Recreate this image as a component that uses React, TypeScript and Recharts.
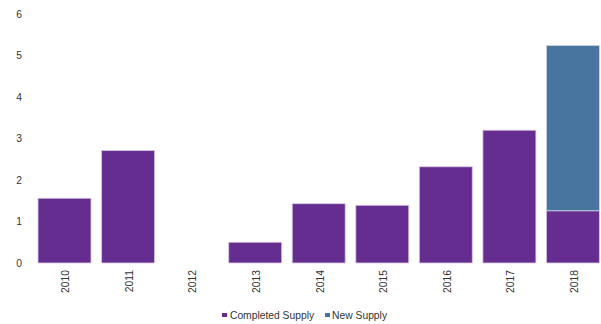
import React from 'react';
import { BarChart, Bar, XAxis, YAxis, Legend } from 'recharts';

const years = ['2010', '2011', '2012', '2013', '2014', '2015', '2016', '2017', '2018'];
const completedSupply = [1.56, 2.71, 0, 0.5, 1.43, 1.39, 2.32, 3.2, 1.26];
const newSupply = [0, 0, 0, 0, 0, 0, 0, 0, 3.98];
const yTicks = [0, 1, 2, 3, 4, 5, 6];

const data = years.map((y, i) => ({
  year: y,
  completed: completedSupply[i],
  newS: newSupply[i] || null,
}));

const PURPLE = '#662D91';
const BLUE = '#47759F';
const FONT = '"Liberation Sans", Arial, sans-serif';

const XTick = (props: any) => {
  const { x, y, payload } = props;
  return (
    <text
      transform={`translate(${x + 1},${y - 1}) rotate(-90)`}
      textAnchor="end"
      dominantBaseline="central"
      fontFamily={FONT}
      fontSize={10.3}
      fill="#333"
    >
      {payload.value}
    </text>
  );
};

const LegendContent = () => (
  <div
    style={{
      display: 'flex',
      justifyContent: 'center',
      alignItems: 'center',
      fontFamily: FONT,
      fontSize: 10.3,
      color: '#333',
      paddingLeft: 4,
      paddingTop: 4,
      lineHeight: '12px',
    }}
  >
    <span style={{ display: 'inline-block', width: 5, height: 4, background: PURPLE, marginRight: 3, position: 'relative', top: -1 }} />
    <span style={{ marginRight: 11 }}>Completed Supply</span>
    <span style={{ display: 'inline-block', width: 5, height: 4, background: BLUE, marginRight: 2, position: 'relative', top: -1 }} />
    <span>New Supply</span>
  </div>
);

export default function App() {
  return (
    <div style={{ position: 'fixed', left: 0, top: 0, width: 601, height: 324, overflow: 'hidden', background: '#fff' }}>
      <BarChart
        width={610}
        height={324}
        data={data}
        margin={{ top: 14, right: 5, bottom: 0, left: 0 }}
        barSize={53}
      >
        <XAxis
          dataKey="year"
          axisLine={false}
          tickLine={false}
          interval={0}
          tick={<XTick />}
          height={43}
        />
        <YAxis
          domain={[0, 6]}
          ticks={yTicks}
          axisLine={false}
          tickLine={false}
          width={33}
          tickMargin={5}
          tick={{ fontFamily: FONT, fontSize: 10.3, fill: '#333' }}
        />
        <Legend content={<LegendContent />} verticalAlign="bottom" height={18} />
        <Bar dataKey="completed" stackId="a" fill={PURPLE} stroke="#d9cbe6" strokeWidth={0.8} isAnimationActive={false} />
        <Bar dataKey="newS" stackId="a" fill={BLUE} stroke="#c9d5e4" strokeWidth={0.8} isAnimationActive={false} />
      </BarChart>
    </div>
  );
}
